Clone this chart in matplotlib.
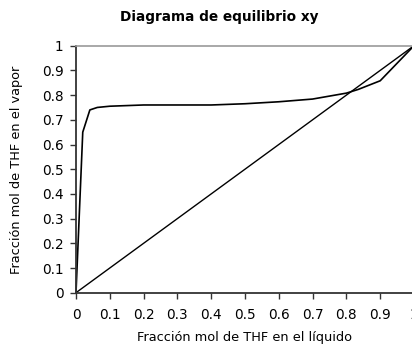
import numpy as np
import matplotlib.pyplot as plt

# equilibrium data, THF mole fraction
x_liq = [0.0, 0.02, 0.041, 0.063, 0.1, 0.2, 0.3, 0.4, 0.5, 0.6, 0.7, 0.8, 0.835, 0.9, 1.0]
y_vap = [0.0, 0.65, 0.74, 0.75, 0.755, 0.76, 0.76, 0.76, 0.765, 0.773, 0.784, 0.808, 0.823, 0.858, 1.0]
diag = [0.0, 1.0]
xticks = [0, 0.1, 0.2, 0.3, 0.4, 0.5, 0.6, 0.7, 0.8, 0.9, 1]
yticks = [0, 0.1, 0.2, 0.3, 0.4, 0.5, 0.6, 0.7, 0.8, 0.9, 1]

plt.rcParams['font.family'] = ['DejaVu Sans']

fig = plt.figure(figsize=(4.12, 3.46), dpi=100)
ax = fig.add_axes([76/412, 53.3/346, 338/412, 247/346])

ax.plot(x_liq, y_vap, color='black', lw=1.2, clip_on=False)
ax.plot(diag, diag, color='black', lw=1.0, clip_on=False)

ax.set_xlim(0, 1)
ax.set_ylim(0, 1)
ax.set_xticks(xticks)
ax.set_yticks(yticks)
ax.set_xticklabels([f'{t:g}' for t in xticks], fontsize=9.8)
ax.set_yticklabels([f'{t:g}' for t in yticks], fontsize=9.8)
ax.tick_params(direction='out', length=4, width=1, color='#333333')
ax.tick_params(axis='x', pad=7)
ax.tick_params(axis='y', pad=5)

for s in ['left', 'bottom']:
    ax.spines[s].set_color('#333333')
    ax.spines[s].set_linewidth(1.3)
ax.spines['top'].set_color('#999999')
ax.spines['top'].set_linewidth(1.2)
ax.spines['right'].set_visible(False)

fig.text(219/412, 1 - 17/346, 'Diagrama de equilibrio xy', ha='center', va='center',
         fontsize=9.8, fontweight='bold')
fig.text(245/412, 1 - 337/346, 'Fracción mol de THF en el líquido', ha='center', va='center',
         fontsize=9.3)
fig.text(17/412, 1 - 170/346, 'Fracción mol de THF en el vapor', ha='center', va='center',
         fontsize=9.3, rotation=90)

fig.savefig('out.png', dpi=100)
